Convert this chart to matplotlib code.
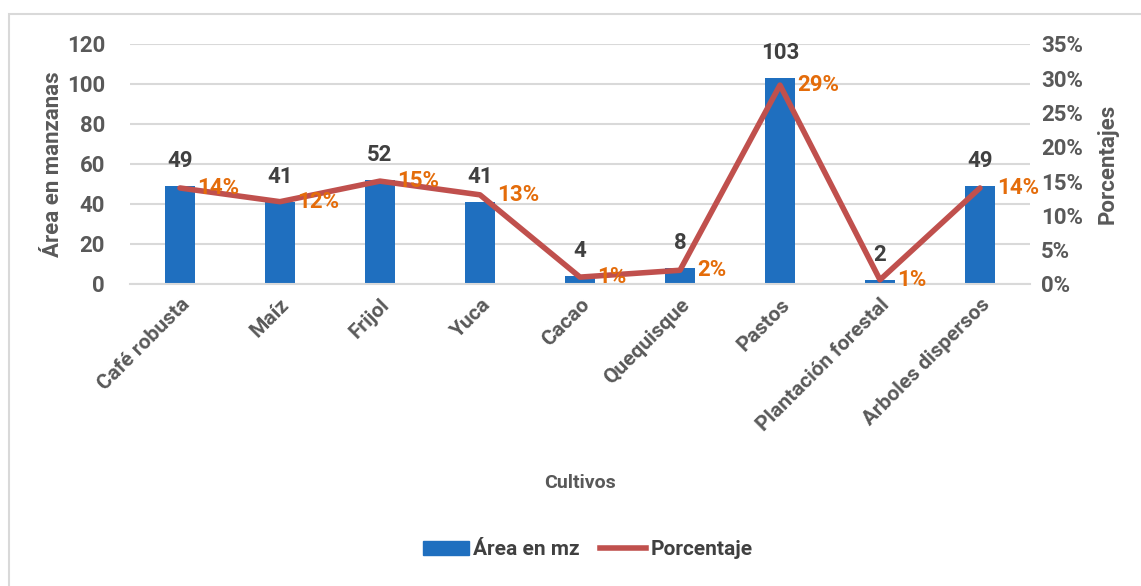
import matplotlib.pyplot as plt
from matplotlib.patches import Rectangle
from matplotlib.lines import Line2D

plt.rcParams['font.family'] = ['Roboto', 'DejaVu Sans']
plt.rcParams['font.weight'] = 'bold'
plt.rcParams['axes.labelweight'] = 'bold'

cultivos = ['Café robusta', 'Maíz', 'Frijol', 'Yuca', 'Cacao', 'Quequisque',
            'Pastos', 'Plantación forestal', 'Arboles dispersos']
area_mz = [49, 41, 52, 41, 4, 8, 103, 2, 49]
porcentaje = [14, 12, 15, 13, 1, 2, 29, 0.6, 14]

gray = '#595959'
blue = '#1F6FBF'
red = '#C0504D'
orange = '#E46C0A'

fig = plt.figure(figsize=(11.41, 5.86), dpi=100)
ax = fig.add_axes([0.1139, 0.5154, 0.7888, 0.4096])
ax2 = ax.twinx()

x = range(len(cultivos))
ax.bar(x, area_mz, width=0.3, color=blue, zorder=2)
ax2.plot(x, porcentaje, color=red, lw=4, solid_capstyle='round', zorder=3)

ax.set_xlim(-0.5, len(cultivos) - 0.5)
ax.set_ylim(0, 120)
ax.set_yticks(range(0, 121, 20))
ax2.set_ylim(0, 35)
ax2.set_yticks(range(0, 36, 5))
ax2.set_yticklabels([f'{v}%' for v in range(0, 36, 5)])

ax.yaxis.grid(True, color='#D9D9D9', lw=1.5, zorder=0)
ax.set_axisbelow(True)
for a in (ax, ax2):
    for s in a.spines.values():
        s.set_visible(False)
    a.tick_params(length=0, labelsize=16, labelcolor=gray)
ax.spines['bottom'].set_visible(True)
ax.spines['bottom'].set_color('#D9D9D9')
ax.spines['bottom'].set_linewidth(1.5)

ax.set_xticks(list(x))
ax.set_xticklabels(cultivos, rotation=45, ha='right', rotation_mode='anchor',
                   fontsize=15)
ax.tick_params(axis='x', pad=8)
ax.tick_params(axis='y', pad=18)
ax2.tick_params(axis='y', pad=8)

ax.set_ylabel('Área en manzanas', fontsize=16, color=gray, labelpad=2)
ax2.set_ylabel('Porcentajes', fontsize=16, color=gray, labelpad=10)
ax.set_xlabel('Cultivos', fontsize=14, color=gray, labelpad=28)

for i, v in enumerate(area_mz):
    ax.text(i, v + 7, f'{v}', ha='center', va='bottom', fontsize=16,
            color='#404040')
for i, p in enumerate(porcentaje):
    ax2.text(i + 0.17, p, f'{p:.0f}%', ha='left', va='center', fontsize=16,
             color=orange)

handles = [Rectangle((0, 0), 1, 1, color=blue),
           Line2D([0], [0], color=red, lw=4)]
fig.legend(handles, ['Área en mz', 'Porcentaje'], loc='center',
           bbox_to_anchor=(0.515, 0.062), ncol=2, frameon=False, fontsize=15,
           labelcolor='#404040', handlelength=2.2, columnspacing=1.0,
           handletextpad=0.2)

fig.patches.append(Rectangle((0.008, -0.05), 1.1, 1.026, transform=fig.transFigure,
                             fill=False, edgecolor='#D9D9D9', lw=1.5))

fig.savefig('out.png', dpi=100)
